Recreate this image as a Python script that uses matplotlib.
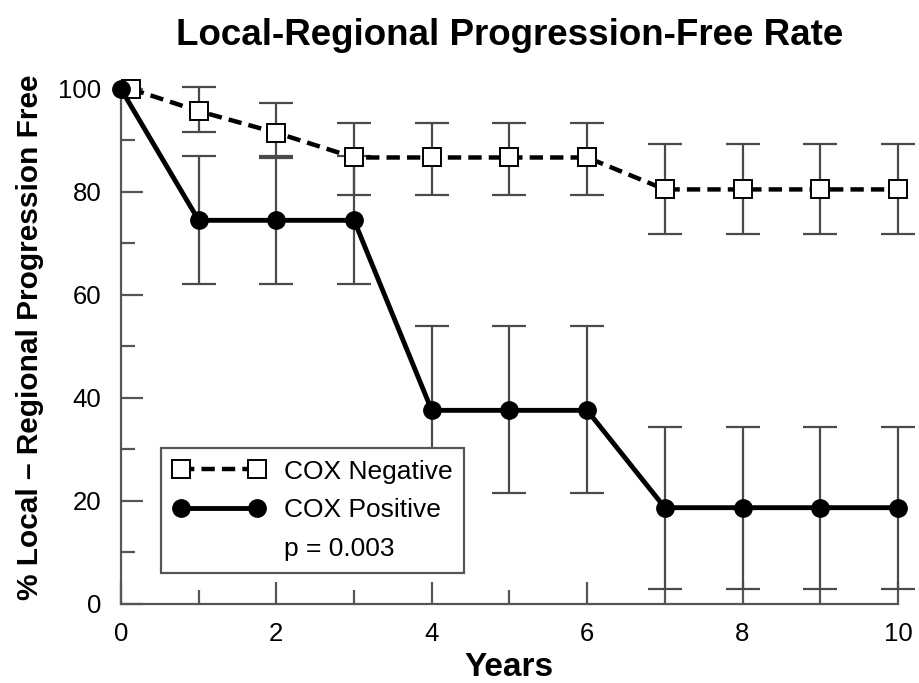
import matplotlib.pyplot as plt
from matplotlib.lines import Line2D
from matplotlib.ticker import MultipleLocator

# === D A T A ===

years = [0, 1, 2, 3, 4, 5, 6, 7, 8, 9, 10]
# square at year 0 sits a little right of the circle in the original
neg_years = [0.13, 1, 2, 3, 4, 5, 6, 7, 8, 9, 10]

neg_rate = [100, 95.7, 91.5, 86.7, 86.7, 86.7, 86.7, 80.5, 80.5, 80.5, 80.5]
neg_upper = [100, 100.4, 97.2, 93.3, 93.3, 93.3, 93.3, 89.3, 89.3, 89.3, 89.3]
neg_lower = [100, 91.7, 86.6, 79.4, 79.4, 79.4, 79.4, 71.8, 71.8, 71.8, 71.8]

pos_rate = [100, 74.5, 74.5, 74.5, 37.6, 37.6, 37.6, 18.7, 18.7, 18.7, 18.7]
pos_upper = [100, 86.9, 86.9, 86.9, 54.0, 54.0, 54.0, 34.3, 34.3, 34.3, 34.3]
pos_lower = [100, 62.1, 62.1, 62.1, 21.5, 21.5, 21.5, 3.0, 3.0, 3.0, 3.0]

title = "Local-Regional Progression-Free Rate"
ylabel = "% Local \u2013 Regional Progression Free"
xlabel = "Years"
labels = ["COX Negative", "COX Positive", "p = 0.003"]

# === S T Y L E ===

plt.rcParams['font.family'] = ['Liberation Sans', 'DejaVu Sans']
ebar_col = '#4a4a4a'
spine_col = '#555555'
neg_ls = (0, (3.0, 1.6))

fig = plt.figure(figsize=(9.2, 6.83), dpi=100)
ax = fig.add_axes([0.1315, 0.1157, 0.8445, 0.754])

def err(rate, up, lo):
  return [[r - l for r, l in zip(rate, lo)], [u - r for u, r in zip(up, rate)]]

# error bars (no bar at year 0)
ax.errorbar(neg_years[1:], neg_rate[1:], yerr=err(neg_rate[1:], neg_upper[1:], neg_lower[1:]),
            fmt='none', ecolor=ebar_col, elinewidth=1.6, capsize=12, capthick=1.6, zorder=2,
            clip_on=False)
ax.errorbar(years[1:], pos_rate[1:], yerr=err(pos_rate[1:], pos_upper[1:], pos_lower[1:]),
            fmt='none', ecolor=ebar_col, elinewidth=1.6, capsize=12, capthick=1.6, zorder=2,
            clip_on=False)

ax.plot(neg_years, neg_rate, color='black', lw=3.2, ls=neg_ls, zorder=3,
        marker='s', ms=13, mfc='white', mec='black', mew=1.4, clip_on=False)
ax.plot(years, pos_rate, color='black', lw=3.5, ls='-', zorder=4,
        marker='o', ms=12.5, mfc='black', mec='black', clip_on=False)

ax.set_xlim(0, 10)
ax.set_ylim(0, 100)
ax.xaxis.set_major_locator(MultipleLocator(2))
ax.xaxis.set_minor_locator(MultipleLocator(1))
ax.yaxis.set_major_locator(MultipleLocator(20))
ax.yaxis.set_minor_locator(MultipleLocator(10))

for s in ['top', 'right']:
  ax.spines[s].set_visible(False)
for s in ['left', 'bottom']:
  ax.spines[s].set_color(spine_col)
  ax.spines[s].set_linewidth(1.6)

ax.tick_params(which='major', direction='in', length=16, width=1.6, color=spine_col,
               labelsize=18.5, pad=14)
ax.tick_params(which='minor', direction='in', length=10, width=1.6, color=spine_col)
ax.tick_params(axis='x', which='major', pad=13)

ax.set_title(title, fontsize=26.5, fontweight='bold', pad=32)
ax.set_xlabel(xlabel, fontsize=24, fontweight='bold', labelpad=4)
ax.set_ylabel(ylabel, fontsize=21.5, fontweight='bold')
ax.yaxis.set_label_coords(-0.099, 0.517)

handles = [
  Line2D([], [], color='black', lw=3.2, ls=neg_ls, marker='s', ms=13,
         mfc='white', mec='black', mew=1.4),
  Line2D([], [], color='black', lw=3.5, marker='o', ms=12.5, mfc='black', mec='black'),
  Line2D([], [], color='none'),
]
leg = ax.legend(handles, labels, loc='lower left', bbox_to_anchor=(0.0515, 0.06),
                numpoints=2, handlelength=3.5, handletextpad=0.7, fontsize=19,
                frameon=True, fancybox=False, framealpha=1, edgecolor=spine_col,
                borderpad=0.45, labelspacing=0.56, borderaxespad=0)
leg.get_frame().set_linewidth(1.6)
leg.set_zorder(10)

fig.savefig('out.png', dpi=100)
